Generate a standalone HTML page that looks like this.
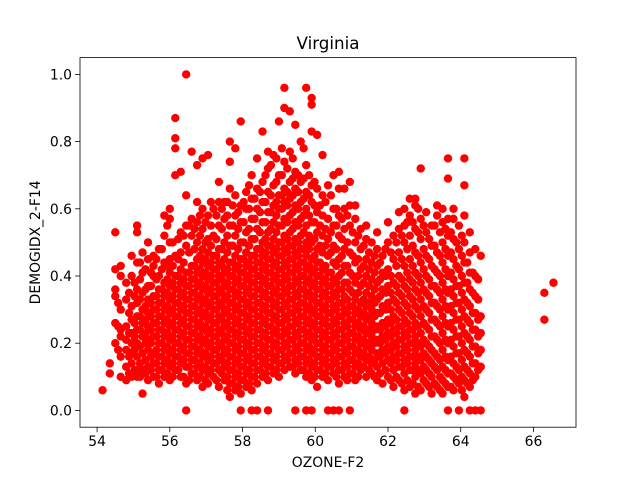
<!DOCTYPE html>
<html><head><meta charset="utf-8"><style>
html,body{margin:0;padding:0;background:#fff;}
svg{display:block;font-family:"DejaVu Sans","Liberation Sans",sans-serif;}
</style></head><body>
<svg id="chart" width="640" height="480"></svg>
<script>
const chartTitle = "Virginia";
const xLabel = "OZONE-F2";
const yLabel = "DEMOGIDX_2-F14";
const xTicks = [54,56,58,60,62,64,66];
const yTicks = [0,0.2,0.4,0.6,0.8,1.0];
const ozoneCols = [54.15,54.35,54.5,54.65,54.8,54.95,55.1,55.25,55.4,55.55,55.7,55.85,56.0,56.15,56.3,56.45,56.6,56.75,56.9,57.05,57.2,57.35,57.5,57.65,57.8,57.95,58.1,58.25,58.4,58.55,58.7,58.85,59.0,59.15,59.3,59.45,59.6,59.75,59.9,60.05,60.2,60.35,60.5,60.65,60.8,60.95,61.1,61.25,61.4,61.55,61.7,61.85,62.0,62.15,62.3,62.45,62.6,62.75,62.9,63.05,63.2,63.35,63.5,63.65,63.8,63.95,64.1,64.25,64.4,64.55,66.3,66.55];
const demogByCol = [
[.06],[.11,.14],[.2,.34,.36,.42,.53,.26],[.1,.16,.24,.3,.4,.43,.22],[.09,.13,.18,.25,.33,.38,.21],
[.1,.14,.2,.27,.31,.4,.46,.17,.23],[.1,.12,.16,.2,.24,.28,.32,.36,.44,.53,.55],[.05,.12,.17,.22,.26,.3,.35,.41,.47],
[.09,.13,.18,.21,.25,.29,.33,.37,.45,.5],[.1,.14,.17,.22,.26,.3,.34,.4,.43,.46],[.08,.12,.16,.2,.24,.28,.32,.36,.4,.48],
[.1,.14,.18,.22,.26,.3,.34,.38,.44,.52,.58],[.09,.13,.17,.21,.25,.29,.33,.37,.41,.45,.5,.57,.6],
[.12,.16,.2,.24,.28,.32,.36,.4,.46,.7,.78,.81,.87],[.1,.14,.18,.22,.26,.3,.34,.38,.42,.47,.53,.71],
[0,.08,.13,.17,.21,.25,.29,.33,.37,.41,.49,.55,.64,1.0],[.11,.15,.19,.23,.27,.31,.35,.39,.43,.52,.57,.77],
[.09,.13,.17,.21,.25,.29,.33,.37,.41,.45,.5,.56,.62,.73],[.07,.12,.16,.2,.24,.28,.32,.36,.4,.44,.48,.54,.6,.75],
[.08,.11,.15,.19,.23,.27,.31,.35,.39,.43,.47,.51,.58,.76],[.1,.14,.18,.22,.26,.3,.34,.38,.42,.46,.52,.6],
[.07,.12,.16,.2,.24,.28,.32,.36,.4,.44,.48,.55,.62,.68],[.09,.13,.17,.21,.25,.29,.33,.37,.41,.45,.5,.57,.62],
[.04,.08,.12,.16,.2,.24,.28,.32,.36,.4,.44,.49,.55,.66,.74,.8],[.06,.1,.14,.18,.22,.26,.3,.34,.38,.42,.46,.52,.58,.64,.78],
[0,.05,.09,.13,.17,.21,.25,.29,.33,.37,.41,.45,.5,.56,.61,.86],[.07,.11,.15,.19,.23,.27,.31,.35,.39,.43,.47,.53,.6,.65],
[0,.06,.1,.14,.18,.22,.26,.3,.34,.38,.42,.46,.51,.57,.63,.7],[0,.08,.12,.16,.2,.24,.28,.32,.36,.4,.44,.48,.54,.6,.66,.75],
[.1,.14,.18,.22,.26,.3,.34,.38,.42,.46,.5,.56,.62,.68,.83],[0,.09,.13,.17,.21,.25,.29,.33,.37,.41,.45,.49,.53,.59,.65,.72,.77],
[.11,.15,.19,.23,.27,.31,.35,.39,.43,.47,.51,.56,.61,.67,.76],[.1,.14,.18,.22,.26,.3,.34,.38,.42,.46,.5,.55,.6,.64,.7,.86],
[.12,.16,.2,.24,.28,.32,.36,.4,.44,.48,.52,.57,.62,.66,.74,.96,.9],[.13,.17,.21,.25,.29,.33,.37,.41,.45,.49,.53,.58,.63,.68,.77,.89],
[0,.11,.15,.19,.23,.27,.31,.35,.39,.43,.47,.51,.56,.61,.66,.71,.85],[.12,.16,.2,.24,.28,.32,.36,.4,.44,.48,.52,.57,.62,.68,.8],
[0,.1,.14,.18,.22,.26,.3,.34,.38,.42,.46,.5,.55,.6,.65,.73,.96],[0,.09,.13,.17,.21,.25,.29,.33,.37,.41,.45,.5,.56,.62,.67,.83,.93,.91],
[.07,.12,.16,.2,.24,.28,.32,.36,.4,.44,.48,.53,.59,.66,.82],[.1,.14,.18,.22,.26,.3,.34,.38,.42,.47,.52,.58,.64,.76],
[0,.09,.13,.17,.21,.25,.29,.33,.37,.41,.46,.51,.57,.67],[0,.11,.15,.19,.23,.27,.31,.35,.39,.44,.49,.55,.6,.7],
[0,.08,.12,.16,.2,.24,.28,.32,.36,.4,.45,.52,.58,.66,.71],[.1,.14,.18,.22,.26,.3,.34,.38,.43,.48,.54,.6,.66],
[0,.11,.15,.19,.23,.27,.31,.36,.41,.47,.55,.61,.68],[.09,.13,.17,.21,.25,.29,.33,.38,.44,.5,.57,.61],
[.12,.16,.2,.24,.28,.32,.37,.42,.48,.54],[.1,.15,.19,.23,.27,.31,.35,.4,.45,.51,.55],
[.11,.14,.18,.22,.26,.3,.34,.39,.44,.5],[.09,.13,.17,.21,.25,.29,.33,.38,.43,.48,.53],
[.08,.14,.18,.22,.26,.31,.36,.41,.46],[.1,.15,.19,.23,.27,.32,.37,.42,.5,.56],
[.07,.12,.16,.2,.24,.28,.33,.38,.45,.52],[.09,.13,.17,.21,.25,.3,.35,.4,.47,.54,.59],
[0,.06,.11,.15,.19,.23,.27,.32,.37,.43,.5,.55,.6],[.07,.12,.16,.2,.24,.29,.34,.39,.45,.52,.58,.63],
[.05,.1,.14,.18,.22,.26,.31,.36,.41,.47,.54,.61,.63],[.06,.11,.15,.19,.23,.28,.33,.38,.44,.51,.57,.72],
[.08,.12,.16,.2,.25,.3,.35,.4,.46,.53,.59],[.05,.1,.14,.18,.22,.27,.32,.37,.43,.49,.55],
[.07,.12,.16,.21,.26,.31,.36,.41,.47,.58,.61],[.05,.09,.13,.18,.23,.28,.33,.38,.44,.5,.56,.6],
[0,.07,.11,.15,.2,.25,.3,.35,.4,.46,.52,.57,.75,.69],[.06,.1,.14,.19,.24,.29,.34,.39,.45,.51,.57,.6],
[0,.08,.12,.17,.22,.27,.32,.37,.42,.48,.55],[.04,.09,.13,.18,.23,.28,.33,.38,.44,.5,.58,.67,.75],
[0,.07,.11,.16,.21,.26,.31,.36,.41,.47,.53],[0,.1,.14,.19,.24,.29,.34,.4,.48],
[0,.13,.18,.23,.28,.46],[.27,.35],[.38]
];
// second interleaved sample set (core of the cloud)
const ozoneColsB = [54.58,54.88,55.03,55.18,55.33,55.48,55.63,55.78,55.93,56.08,56.23,56.38,56.53,56.68,56.83,56.98,57.13,57.28,57.43,57.58,57.73,57.88,58.03,58.18,58.33,58.48,58.63,58.78,58.93,59.08,59.23,59.38,59.53,59.68,59.83,59.98,60.13,60.28,60.43,60.58,60.73,60.88,61.03,61.18,61.33,61.48,61.63,61.78,61.93,62.08,62.23,62.38,62.53,62.68,62.83,62.98,63.13,63.28,63.43,63.58,63.73,63.88,64.03,64.18,64.33,64.48];
const demogByColB = [
[.18,.25,.32],[.11,.16,.23,.29,.35],[.12,.18,.22,.26,.34,.38],[.1,.14,.19,.24,.28,.33,.39,.44],
[.11,.15,.2,.23,.27,.31,.36,.42],[.12,.16,.2,.24,.28,.32,.37,.41],[.1,.14,.18,.22,.26,.3,.34,.39,.45],
[.12,.16,.2,.24,.28,.32,.36,.42,.48],[.11,.15,.19,.23,.27,.31,.35,.39,.43,.55],[.1,.14,.18,.22,.26,.3,.34,.38,.43,.5],
[.12,.16,.2,.24,.28,.32,.36,.4,.45,.51],[.1,.15,.19,.23,.27,.31,.35,.39,.44,.52],[.09,.13,.17,.21,.25,.29,.33,.37,.41,.47,.55],
[.11,.15,.19,.23,.27,.31,.35,.39,.43,.48,.54],[.1,.14,.18,.22,.26,.3,.34,.38,.42,.46,.52,.58],[.09,.13,.17,.21,.25,.29,.33,.37,.41,.45,.5,.56],
[.12,.16,.2,.24,.28,.32,.36,.4,.44,.49,.55,.62],[.09,.14,.18,.22,.26,.3,.34,.38,.42,.46,.51,.58],[.11,.15,.19,.23,.27,.31,.35,.39,.43,.48,.54,.6],
[.06,.1,.14,.18,.22,.26,.3,.34,.38,.42,.47,.52,.58,.62],[.08,.12,.16,.2,.24,.28,.32,.36,.4,.44,.49,.55,.61],[.07,.11,.15,.19,.23,.27,.31,.35,.39,.43,.48,.54,.59],
[.09,.13,.17,.21,.25,.29,.33,.37,.41,.45,.5,.56,.62],[.08,.12,.16,.2,.24,.28,.32,.36,.4,.44,.49,.54,.6,.67],[.1,.14,.18,.22,.26,.3,.34,.38,.42,.46,.51,.57,.63],
[.12,.16,.2,.24,.28,.32,.36,.4,.44,.48,.53,.59,.65],[.11,.15,.19,.23,.27,.31,.35,.39,.43,.47,.51,.56,.62,.7],[.13,.17,.21,.25,.29,.33,.37,.41,.45,.49,.54,.59,.64,.73],
[.12,.16,.2,.24,.28,.32,.36,.4,.44,.48,.53,.58,.62,.68,.75],[.14,.18,.22,.26,.3,.34,.38,.42,.46,.5,.55,.6,.64,.7,.78],[.15,.19,.23,.27,.31,.35,.39,.43,.47,.51,.56,.61,.65,.72],
[.13,.17,.21,.25,.29,.33,.37,.41,.45,.49,.54,.59,.64,.69,.75],[.14,.18,.22,.26,.3,.34,.38,.42,.46,.5,.55,.6,.65,.7],[.12,.16,.2,.24,.28,.32,.36,.4,.44,.48,.53,.58,.63,.69,.78],
[.11,.15,.19,.23,.27,.31,.35,.39,.43,.48,.52,.58,.64,.7],[.1,.14,.18,.22,.26,.3,.34,.38,.42,.46,.51,.56,.61,.68],[.12,.16,.2,.24,.28,.32,.36,.4,.44,.49,.55,.61],
[.11,.15,.19,.23,.27,.31,.35,.39,.43,.49,.54,.62],[.13,.17,.21,.25,.29,.33,.37,.41,.47,.53,.64],[.1,.14,.18,.22,.26,.3,.34,.38,.43,.48,.55,.6],
[.12,.16,.2,.24,.28,.32,.36,.41,.46,.51,.57],[.09,.13,.17,.21,.25,.29,.33,.38,.43,.5,.58],[.11,.15,.19,.23,.27,.31,.35,.4,.46,.53],
[.1,.14,.18,.22,.26,.3,.35,.4,.45,.52],[.13,.17,.21,.25,.29,.33,.38,.43,.49],[.12,.16,.2,.24,.28,.32,.37,.42,.47],
[.1,.15,.2,.24,.28,.32,.36,.41,.46],[.11,.16,.2,.24,.29,.34,.39,.44],[.12,.17,.21,.25,.3,.35,.4,.48],
[.09,.14,.18,.22,.26,.3,.35,.4,.47],[.1,.15,.19,.23,.27,.32,.37,.43,.5],[.08,.13,.17,.21,.25,.29,.34,.39,.45,.52],
[.09,.14,.18,.22,.26,.31,.36,.41,.48,.56],[.08,.12,.16,.2,.24,.28,.33,.38,.43,.49,.56],[.07,.12,.16,.2,.25,.3,.35,.4,.46,.53,.6],
[.09,.13,.17,.21,.26,.31,.36,.42,.48,.55],[.07,.11,.15,.19,.24,.29,.34,.39,.45,.51],[.08,.13,.17,.22,.27,.32,.37,.42,.49,.55],
[.06,.1,.15,.2,.25,.3,.35,.4,.46,.53],[.08,.12,.16,.21,.26,.31,.36,.42,.48,.54],[.07,.11,.16,.21,.26,.31,.36,.41,.47,.53],
[.09,.13,.17,.22,.27,.32,.37,.43,.5],[.06,.1,.15,.2,.25,.3,.35,.4,.46,.52],[.08,.12,.17,.22,.27,.32,.38,.44],
[.09,.14,.19,.24,.29,.35,.41],[.12,.17,.22,.27,.33,.39]
];
const NS="http://www.w3.org/2000/svg";
const svg=document.getElementById('chart');
const L=80,R=576,T=57.6,B=427.2;
const xMin=53.53,xMax=67.17,yMin=-0.05,yMax=1.05;
function sx(v){return L+(v-xMin)/(xMax-xMin)*(R-L);}
function sy(v){return B-(v-yMin)/(yMax-yMin)*(B-T);}
function mk(tag,attrs){const e=document.createElementNS(NS,tag);for(const k in attrs)e.setAttribute(k,attrs[k]);svg.appendChild(e);return e;}
const pts=mk('g',{});


function plotCols(cols,vals){
 cols.forEach((x,i)=>{vals[i].forEach(y=>{
  const c=document.createElementNS(NS,'circle');
  c.setAttribute('cx',sx(x));c.setAttribute('cy',sy(y));c.setAttribute('r',4.2);c.setAttribute('fill','#ff0000');
  
  
  pts.appendChild(c);
 });});
}
plotCols(ozoneCols,demogByCol);
plotCols(ozoneColsB,demogByColB);
const frame=mk('rect',{x:L,y:T,width:R-L,height:B-T,fill:'none',stroke:'#000','stroke-width':0.8});


xTicks.forEach(t=>{
 const x=sx(t);
 const ln=mk('line',{x1:x,x2:x,y1:B,y2:B+4.9,stroke:'#000','stroke-width':0.8});
 
 
 const tx=mk('text',{x:x,y:B+19,'text-anchor':'middle','font-size':'13.9px',fill:'#000'});
 tx.textContent=t;
 
 
});
yTicks.forEach(t=>{
 const y=sy(t);
 const ln=mk('line',{x1:L-4.9,x2:L,y1:y,y2:y,stroke:'#000','stroke-width':0.8});
 
 
 const tx=mk('text',{x:L-8,y:y+5,'text-anchor':'end','font-size':'13.9px',fill:'#000'});
 tx.textContent=t.toFixed(1);
 
 
});
const title=mk('text',{x:(L+R)/2,y:49,'text-anchor':'middle','font-size':'16.7px',fill:'#000'});
title.textContent=chartTitle;


const xl=mk('text',{x:(L+R)/2,y:467,'text-anchor':'middle','font-size':'13.9px',fill:'#000'});
xl.textContent=xLabel;


const yl=mk('text',{x:0,y:0,'text-anchor':'middle','font-size':'13.9px',fill:'#000',transform:'translate(40,'+((T+B)/2)+') rotate(-90)'});
yl.textContent=yLabel;


</script>
</body></html>
